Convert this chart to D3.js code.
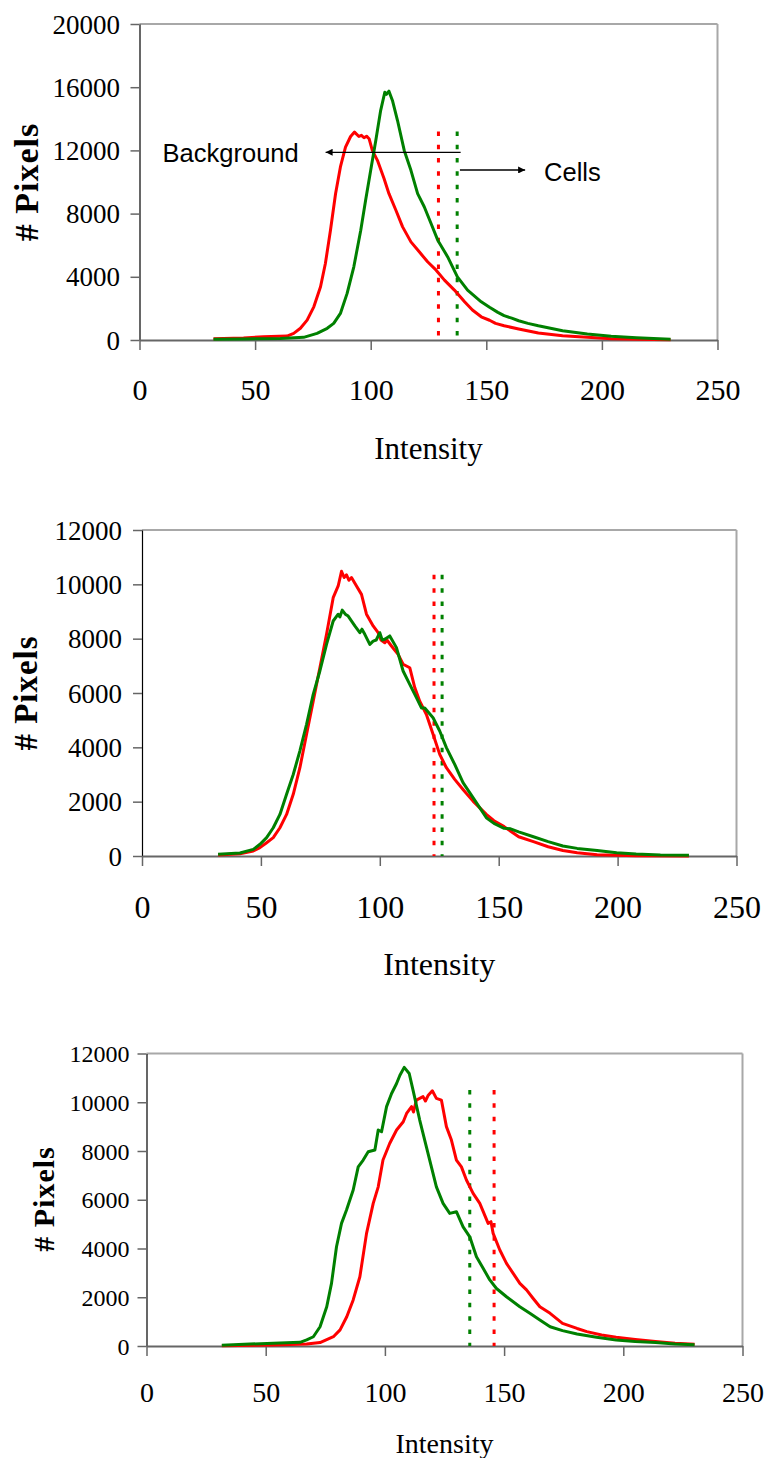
<!DOCTYPE html>
<html><head><meta charset="utf-8">
<script src="https://cdn.jsdelivr.net/npm/d3@7"></script>
<style>
html,body{margin:0;padding:0;background:#fff;}
svg{display:block;}
</style></head>
<body>
<svg id="chart" width="767" height="1458"></svg>
<script>
// ---------- DATA ----------
const xTicks = [0, 50, 100, 150, 200, 250];
const yTicksTop = [0, 4000, 8000, 12000, 16000, 20000];
const yTicksLower = [0, 2000, 4000, 6000, 8000, 10000, 12000];

// Panel 1 (intensity, pixel count)
const p1Red = [[32,80],[45,120],[53.6,210],[63.8,250],[66.7,420],[69.6,740],[72.5,1260],[75.4,2100],[78.3,3370],[80.4,4840],[82.6,6950],[84.8,9260],[86.9,10950],[89.1,12210],[91.3,12880],[93,13160],[94.9,12880],[96,12950],[97.1,12800],[98.2,12900],[99.3,12740],[100.7,12000],[102.9,11370],[105.8,10210],[107.9,9260],[110.9,8210],[113.8,7160],[117.4,6210],[121,5580],[124.6,4950],[128.3,4420],[131.9,3790],[136.2,3160],[140.6,2420],[144,1900],[147.8,1470],[151.4,1250],[154,1050],[157.7,900],[164,700],[172.5,440],[183,270],[193.7,170],[204,80],[214.9,40],[229.7,20]];
const p1Green = [[32,40],[45,60],[60.9,100],[71,170],[76.8,420],[81.2,740],[84,1050],[86.9,1680],[89.8,2950],[92.7,4630],[95.7,6950],[97.8,8840],[100,10740],[102.2,12630],[104.3,14520],[106.1,15680],[106.8,15550],[107.9,15750],[109.4,15160],[111.6,13890],[114.5,12000],[117.4,10740],[120.3,9260],[123.2,8420],[126.1,7370],[129,6320],[133.3,5260],[137.5,4000],[141.9,3160],[147.8,2420],[151.4,2070],[155,1750],[157.7,1540],[161,1380],[164,1220],[168,1050],[172.5,900],[183,590],[193.7,380],[204,230],[214.9,150],[229.7,40]];
const p1Thresholds = [{x:129.3, top:13200, color:"red"},{x:137.4, top:13200, color:"green"}];

// Panel 2
const p2Red = [[32,40],[41.2,86],[46.8,184],[49.6,307],[52.4,490],[55.2,675],[58,1040],[60.8,1530],[63.6,2270],[66.4,3250],[69.2,4480],[72,5700],[74.8,6930],[77.6,8160],[80.4,9510],[82.5,9940],[83.9,10480],[85,10250],[86,10350],[87,10150],[88.1,10250],[90.2,9940],[92.3,9630],[94.4,8900],[97.2,8470],[99.3,8220],[100.5,7950],[102.1,7850],[103,7950],[104.9,7730],[107.7,7420],[109.8,7060],[112.6,6930],[114.7,6200],[116.8,5700],[119.6,5210],[122.4,4480],[125.2,3740],[128,3250],[131.5,2820],[135,2450],[139.2,2020],[144.8,1530],[148,1300],[152.3,1080],[158.4,710],[164.6,530],[170.8,340],[177,200],[183,120],[191.4,50],[199.6,25],[207.8,10],[230,0]];
const p2Green = [[32,60],[41.2,110],[46.8,245],[49.6,430],[52.4,675],[55.2,1040],[58,1530],[60.8,2270],[63.6,3000],[66.4,3870],[69.2,4850],[72,5950],[74.8,6810],[77.6,7790],[80.4,8650],[82.5,8900],[83.2,8800],[84.2,9050],[85.5,8900],[86.7,8830],[89.5,8470],[91.6,8220],[92.5,8350],[93.7,8160],[95.8,7790],[97.2,7910],[98.5,7950],[100,8220],[101,7950],[102.1,7980],[104.2,8100],[107,7670],[109.8,6810],[112.6,6320],[115.4,5830],[117.5,5450],[118.9,5450],[122.4,5090],[125.2,4600],[128,3990],[131.5,3370],[135,2700],[139.2,2150],[144.8,1410],[148,1200],[152.3,1020],[155,1000],[158.4,890],[164.6,710],[170.8,530],[177,370],[183,280],[191.4,200],[199.6,120],[207.8,70],[218,35],[230,25]];
const p2Thresholds = [{x:122.8, top:10350, color:"red"},{x:126.2, top:10350, color:"green"}];

// Panel 3
const p3Red = [[31.6,10],[53.2,40],[67.2,80],[72.8,140],[78.4,380],[81.2,660],[84,1200],[86.7,1890],[89.5,2840],[92.3,4620],[95.1,5850],[97.2,6530],[99.2,7630],[102,8310],[104.9,8860],[107.7,9200],[109.1,9540],[111.2,9820],[112,9600],[113.2,10090],[116,10230],[117,10050],[118.2,10290],[119.9,10470],[121.6,10160],[123.7,10090],[125.8,9000],[127.9,8450],[130,7630],[132.1,7350],[134.2,6810],[137,6260],[139.8,5850],[143.3,5030],[144.5,5100],[145.4,4620],[148.2,3940],[151,3390],[153.8,2980],[156.6,2570],[159.4,2300],[162.2,1950],[165,1610],[169.3,1340],[174.5,930],[180.6,720],[184.7,590],[190.9,450],[197,355],[205,270],[213.5,180],[221.7,110],[229.9,70]];
const p3Green = [[31.6,30],[43.4,80],[53.2,110],[64.4,150],[67.2,250],[70,380],[72.8,790],[75.6,1610],[77.6,2570],[79.7,4070],[81.8,5030],[83.9,5580],[86.7,6400],[88.8,7350],[90.9,7630],[93,7970],[95.8,8040],[97.2,8860],[98.6,8790],[100.7,9820],[102.8,10360],[104.9,10770],[106.3,11110],[108.1,11430],[110.2,11180],[111.8,10500],[114.6,9270],[117.4,8170],[119.5,7350],[121.6,6530],[124.4,5850],[127.2,5440],[130,5510],[132.8,4890],[135.6,4480],[138.4,3660],[141.2,3190],[144,2710],[146.8,2360],[151,2020],[156.6,1610],[160.8,1340],[165,1070],[169.3,790],[174.5,630],[180.6,490],[188.8,355],[197,250],[205,180],[213.5,140],[221.7,80],[229.9,55]];
const p3Thresholds = [{x:135.6, top:10500, color:"green"},{x:145.8, top:10500, color:"red"}];

// ---------- DRAW ----------
const svg = d3.select("#chart");
const RED = "#ff0000", GREEN = "#008000";

const panels = [
  {left:139.5, right:717.5, top:24, bottom:340, yMax:20000, yTicks:yTicksTop,
   red:p1Red, green:p1Green, thr:p1Thresholds,
   yTickSize:27, yTickRight:120, xTickSize:30, xTickBase:400,
   title:{size:31, base:459}, ylab:{size:34, x:38, y:182}},
  {left:142, right:736.5, top:530, bottom:856, yMax:12000, yTicks:yTicksLower,
   red:p2Red, green:p2Green, thr:p2Thresholds,
   yTickSize:27, yTickRight:122, xTickSize:32, xTickBase:918,
   title:{size:32, base:975}, ylab:{size:33, x:36.5, y:693}},
  {left:146.5, right:742.5, top:1053.5, bottom:1346, yMax:12000, yTicks:yTicksLower,
   red:p3Red, green:p3Green, thr:p3Thresholds,
   yTickSize:24, yTickRight:129.5, xTickSize:28, xTickBase:1402,
   title:{size:28, base:1453}, ylab:{size:30, x:53.5, y:1199}}
];

const serif = "'Liberation Serif','Times New Roman',serif";
const sans = "'Liberation Sans',Arial,sans-serif";

panels.forEach((p, i) => {
  const x = d3.scaleLinear().domain([0, 250]).range([p.left, p.right]);
  const y = d3.scaleLinear().domain([0, p.yMax]).range([p.bottom, p.top]);
  const g = svg.append("g");

  // frame: top & right gray
  g.append("line").attr("x1", p.left).attr("x2", p.right).attr("y1", p.top).attr("y2", p.top)
    .attr("stroke", "#a8a8a8").attr("stroke-width", 2);
  g.append("line").attr("x1", p.right).attr("x2", p.right).attr("y1", p.top).attr("y2", p.bottom)
    .attr("stroke", "#a8a8a8").attr("stroke-width", 2);

  // y axis
  const yAx = g.append("g").attr("transform", `translate(${p.left},0)`)
    .call(d3.axisLeft(y).tickValues(p.yTicks).tickSize(9).tickSizeOuter(0).tickFormat(d3.format("d")));
  yAx.select(".domain").attr("stroke", "#000").attr("stroke-width", 1.2);
  yAx.selectAll(".tick line").attr("stroke", "#666").attr("stroke-width", 1.5);
  yAx.selectAll(".tick text").attr("x", p.yTickRight - p.left).attr("dy", "0.34em")
    .attr("font-family", serif).attr("font-size", p.yTickSize).attr("fill", "#000");

  // x axis
  const xAx = g.append("g").attr("transform", `translate(0,${p.bottom})`)
    .call(d3.axisBottom(x).tickValues(xTicks).tickSize(10).tickSizeOuter(0));
  xAx.select(".domain").attr("stroke", "#666").attr("stroke-width", 2);
  xAx.selectAll(".tick line").attr("stroke", "#666").attr("stroke-width", 1.5);
  xAx.selectAll(".tick text").attr("y", p.xTickBase - p.bottom).attr("dy", 0)
    .attr("font-family", serif).attr("font-size", p.xTickSize).attr("fill", "#000");

  // threshold dotted lines
  p.thr.forEach(t => {
    g.append("line").attr("x1", x(t.x)).attr("x2", x(t.x)).attr("y1", y(t.top)).attr("y2", p.bottom)
      .attr("stroke", t.color === "red" ? RED : GREEN).attr("stroke-width", 3)
      .attr("stroke-dasharray", "4.5,8.8");
  });

  // curves
  const line = d3.line().x(d => x(d[0])).y(d => y(d[1]));
  g.append("path").datum(p.red).attr("d", line).attr("fill", "none")
    .attr("stroke", RED).attr("stroke-width", 3).attr("stroke-linejoin", "round");
  g.append("path").datum(p.green).attr("d", line).attr("fill", "none")
    .attr("stroke", GREEN).attr("stroke-width", 3).attr("stroke-linejoin", "round");

  // axis titles
  g.append("text").attr("x", (p.left + p.right) / 2).attr("y", p.title.base)
    .attr("text-anchor", "middle").attr("font-family", serif).attr("font-size", p.title.size)
    .text("Intensity");
  g.append("text").attr("transform", `translate(${p.ylab.x},${p.ylab.y}) rotate(-90)`)
    .attr("text-anchor", "middle").attr("font-family", serif).attr("font-weight", "bold")
    .attr("font-size", p.ylab.size).attr("letter-spacing", 1).text("# Pixels");

  // annotations (first panel only)
  if (i === 0) {
    const defs = svg.append("defs");
    defs.append("marker").attr("id", "arr").attr("viewBox", "0 0 10 10").attr("refX", 10).attr("refY", 5)
      .attr("markerWidth", 9).attr("markerHeight", 7).attr("markerUnits", "userSpaceOnUse")
      .attr("orient", "auto").append("path").attr("d", "M0,0L10,5L0,10z").attr("fill", "#000");
    g.append("line").attr("x1", x(138.9)).attr("y1", y(11880)).attr("x2", x(80.5)).attr("y2", y(11880))
      .attr("stroke", "#000").attr("stroke-width", 1.3).attr("marker-end", "url(#arr)");
    g.append("line").attr("x1", x(138.6)).attr("y1", y(10760)).attr("x2", x(166.8)).attr("y2", y(10760))
      .attr("stroke", "#000").attr("stroke-width", 1.3).attr("marker-end", "url(#arr)");
    g.append("text").attr("x", x(10)).attr("y", y(11285)).attr("font-family", sans)
      .attr("font-size", 25.5).text("Background");
    g.append("text").attr("x", x(175)).attr("y", y(10060)).attr("font-family", sans)
      .attr("font-size", 25.5).text("Cells");
  }
});
</script>
</body></html>
